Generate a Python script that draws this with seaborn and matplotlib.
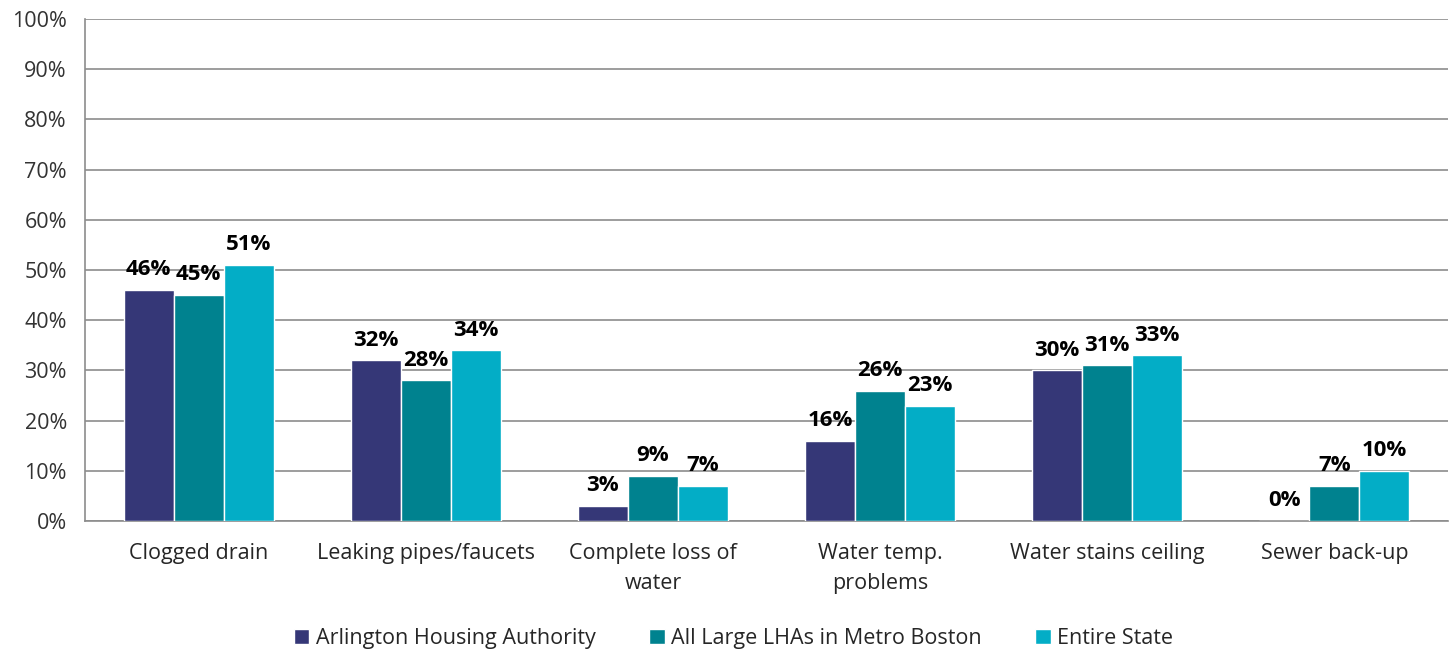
import numpy as np
import pandas as pd
import seaborn as sns
import matplotlib.pyplot as plt
import matplotlib.ticker as ticker

categories = ["Clogged drain", "Leaking pipes/faucets", "Complete loss of\nwater",
              "Water temp.\nproblems", "Water stains ceiling", "Sewer back-up"]
series = ["Arlington Housing Authority", "All Large LHAs in Metro Boston", "Entire State"]
arlington = [46, 32, 3, 16, 30, 0]
metro_boston = [45, 28, 9, 26, 31, 7]
entire_state = [51, 34, 7, 23, 33, 10]
colors = ["#353777", "#00828F", "#03ADC6"]


def main():
    df = pd.DataFrame({
        "category": categories * 3,
        "group": [s for s in series for _ in categories],
        "value": arlington + metro_boston + entire_state,
    })

    sns.set_style("white")
    plt.rcParams['font.family'] = ['Open Sans', 'DejaVu Sans']

    fig = plt.figure(figsize=(14.5, 6.49), dpi=100)
    ax = fig.add_axes([0.0586, 0.197, 0.94, 0.774])

    sns.barplot(data=df, x="category", y="value", hue="group", order=categories,
                hue_order=series, palette=colors, width=0.66, saturation=1,
                ax=ax, zorder=3)

    for cont in ax.containers:
        ax.bar_label(cont, labels=[f"{v:.0f}%" for v in cont.datavalues],
                     padding=7, fontsize=16, fontweight='bold', color='black')

    ax.set_ylim(0, 100)
    ax.set_xlim(-0.5, len(categories) - 0.5)
    ax.yaxis.set_major_locator(ticker.MultipleLocator(10))
    ax.yaxis.set_major_formatter(ticker.FuncFormatter(lambda v, p: f"{v:.0f}%"))
    ax.grid(axis='y', color='#8c8c8c', linewidth=1.2, zorder=0)
    ax.set_axisbelow(True)

    for s in ["top", "right"]:
        ax.spines[s].set_visible(False)
    for s in ["left", "bottom"]:
        ax.spines[s].set_color('#8c8c8c')
        ax.spines[s].set_linewidth(1.2)

    ax.tick_params(axis='y', which='major', length=8, width=1.2, color='#8c8c8c',
                   labelsize=15.5, pad=5, labelcolor='#333333')
    ax.tick_params(axis='x', which='major', length=0, labelsize=15.5, pad=16)
    for lbl in ax.get_xticklabels():
        lbl.set_linespacing(1.55)
    ax.xaxis.set_minor_locator(ticker.FixedLocator(np.arange(0.5, len(categories) - 0.5, 1)))
    ax.tick_params(axis='x', which='minor', length=8, width=1.2, color='#8c8c8c')
    ax.set_xlabel("")
    ax.set_ylabel("")

    handles, labels = ax.get_legend_handles_labels()
    ax.legend_.remove()
    fig.legend(handles, labels, loc='center', bbox_to_anchor=(0.506, 0.016),
               ncol=3, frameon=False, fontsize=15.5, handlelength=0.7, handleheight=0.7,
               handletextpad=0.3, columnspacing=2.5)

    fig.savefig("out.png", dpi=100)


if __name__ == "__main__":
    main()
